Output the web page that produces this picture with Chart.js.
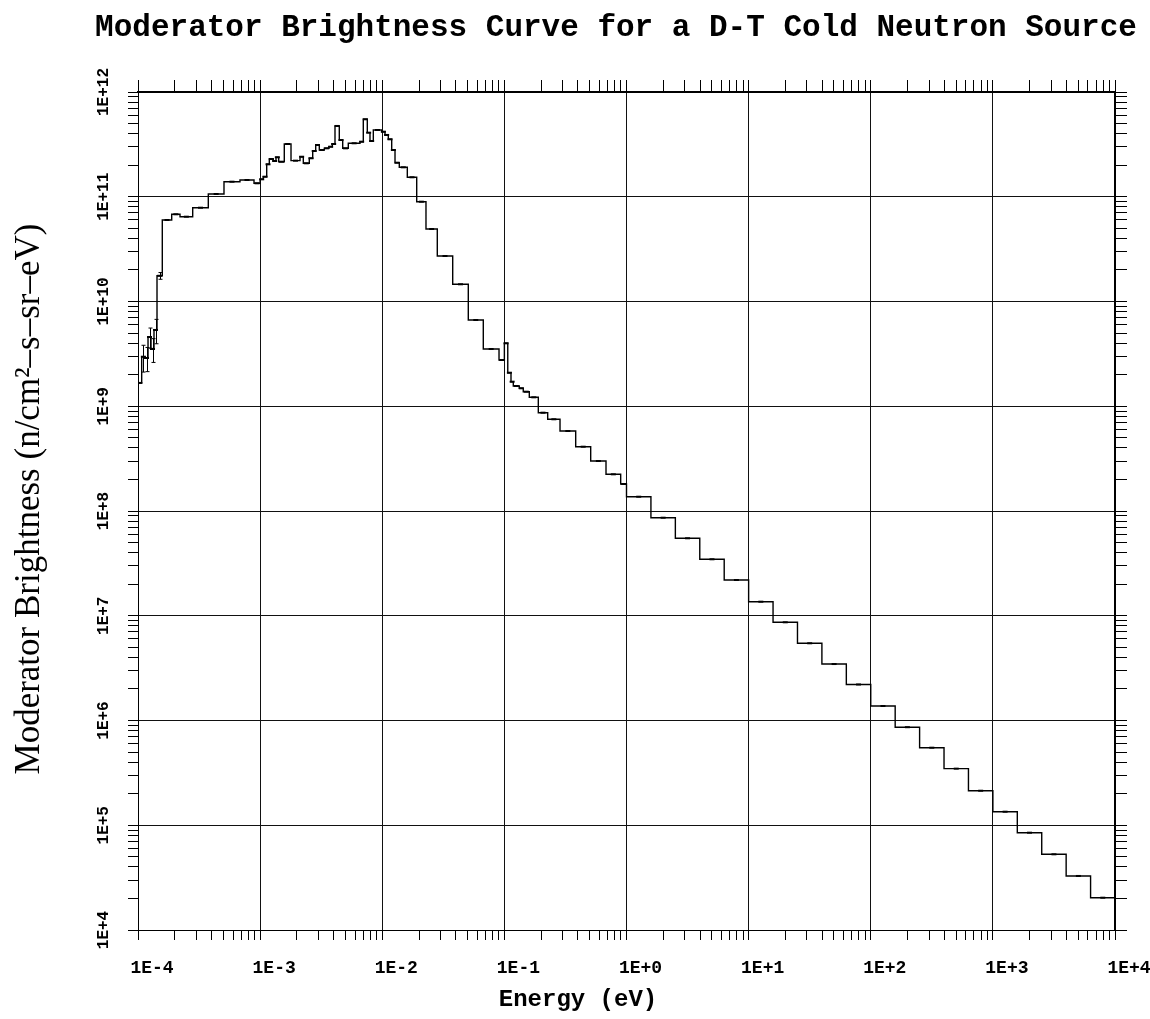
<!DOCTYPE html>
<html>
<head>
<meta charset="utf-8">
<title>Moderator Brightness Curve</title>
<script src="https://cdn.jsdelivr.net/npm/chart.js@4.4.1/dist/chart.umd.min.js"></script>
<style>
  html, body { margin: 0; padding: 0; background: #fff; }
  #wrap { width: 1150px; height: 1019px; }
</style>
</head>
<body>
<div id="wrap"><canvas id="brightChart" width="1150" height="1019"></canvas></div>
<script>
// Energy bin edges of the tally (eV)
const binEdges = [
    1.00e-4, 1.072e-4, 1.141e-4, 1.208e-4, 1.278e-4, 1.352e-4, 1.431e-4, 1.581e-4, 1.888e-4, 2.208e-4,
    2.805e-4, 3.764e-4, 5.06e-4, 6.84e-4, 8.91e-4, 1.0e-3, 1.062e-3, 1.132e-3, 1.189e-3, 1.282e-3,
    1.349e-3, 1.419e-3, 1.577e-3, 1.790e-3, 2.121e-3, 2.257e-3, 2.527e-3, 2.695e-3, 2.852e-3, 3.052e-3,
    3.354e-3, 3.664e-3, 3.899e-3, 4.103e-3, 4.449e-3, 4.745e-3, 5.272e-3, 6.574e-3, 6.995e-3, 7.544e-3,
    7.937e-3, 8.45e-3, 9.90e-3, 1.053e-2, 1.121e-2, 1.195e-2, 1.272e-2, 1.379e-2, 1.604e-2, 1.915e-2,
    2.281e-2, 2.823e-2, 3.775e-2, 5.065e-2, 6.72e-2, 9.04e-2, 1.0e-1, 1.066e-1, 1.133e-1, 1.183e-1,
    1.325e-1, 1.428e-1, 1.600e-1, 1.896e-1, 2.263e-1, 2.855e-1, 3.837e-1, 5.091e-1, 6.795e-1, 8.961e-1,
    1.0, 1.585, 2.512, 3.981, 6.310, 10, 15.85, 25.12, 39.81, 63.10,
    100, 158.5, 251.2, 398.1, 631.0, 1000, 1585, 2512, 3981, 6310, 10000
];

// Brightness in each bin (n/cm^2-s-sr-eV)
const brightness = [
    1.67e9, 2.97e9, 2.89e9, 4.58e9, 3.52e9, 5.35e9, 1.76e10, 6.0e10, 6.80e10, 6.45e10,
    7.86e10, 1.063e11, 1.392e11, 1.445e11, 1.344e11, 1.467e11, 1.554e11, 2.04e11, 2.293e11, 2.194e11,
    2.38e11, 2.16e11, 3.19e11, 2.21e11, 2.41e11, 2.086e11, 2.33e11, 2.735e11, 3.12e11, 2.795e11,
    2.90e11, 3.005e11, 3.19e11, 4.74e11, 3.48e11, 2.90e11, 3.24e11, 3.355e11, 5.49e11, 4.09e11,
    3.405e11, 4.34e11, 4.18e11, 3.89e11, 3.535e11, 2.795e11, 2.114e11, 1.91e11, 1.534e11, 8.97e10,
    4.92e10, 2.72e10, 1.46e10, 6.66e9, 3.52e9, 2.764e9, 3.99e9, 2.09e9, 1.716e9, 1.561e9,
    1.484e9, 1.377e9, 1.217e9, 8.68e8, 7.51e8, 5.80e8, 4.11e8, 3.00e8, 2.24e8, 1.81e8,
    1.369e8, 8.63e7, 5.49e7, 3.46e7, 2.194e7, 1.362e7, 8.66e6, 5.46e6, 3.46e6, 2.207e6,
    1.375e6, 8.63e5, 5.50e5, 3.47e5, 2.136e5, 1.347e5, 8.49e4, 5.28e4, 3.28e4, 2.034e4
];

// statistical errors, only visible in the coldest bins
const errorBins = [1, 2, 3, 4, 5, 6];
const errorSize = [0.85e9, 0.75e9, 1.0e9, 0.9e9, 1.4e9, 0.13e10];

const xTickLabels = ['1E-4', '1E-3', '1E-2', '1E-1', '1E+0', '1E+1', '1E+2', '1E+3', '1E+4'];
const yTickLabels = ['1E+4', '1E+5', '1E+6', '1E+7', '1E+8', '1E+9', '1E+10', '1E+11', '1E+12'];

const X_MIN = 1e-4, X_MAX = 1e4;
const Y_MIN = 1e4, Y_MAX = 1e12;

// histogram outline: one point per left edge, plus the closing edge
const stepPoints = binEdges.map((e, i) => ({ x: e, y: brightness[Math.min(i, brightness.length - 1)] }));
// little mark in the middle of every bin
const binMarks = brightness.map((v, i) => ({ x: Math.sqrt(binEdges[i] * binEdges[i + 1]), y: v }));

// 1..9 x 10^n ticks, decades flagged as major
function logTicks(scale) {
    const lo = Math.round(Math.log10(scale.min));
    const hi = Math.round(Math.log10(scale.max));
    const ticks = [];
    for (let e = lo; e <= hi; e++) {
        for (let m = 1; m <= 9; m++) {
            if (e === hi && m > 1) break;
            ticks.push({ value: m * Math.pow(10, e), major: m === 1 });
        }
    }
    scale.ticks = ticks;
}

function decadeLabel(labels, first) {
    return (value, index, ticks) => {
        if (!ticks[index].major) return '';
        return labels[Math.round(Math.log10(value)) - first];
    };
}

const gridColor = (ctx) => (ctx.tick && ctx.tick.major ? '#111' : 'rgba(0,0,0,0)');

const MONO = '"Liberation Mono", "DejaVu Sans Mono", monospace';
const SERIF = '"Liberation Serif", "Times New Roman", serif';
const monoBold = (size) => ({ family: MONO, weight: 'bold', size: size });

const errorBars = {
    id: 'errorBars',
    afterDatasetsDraw(chart) {
        const { ctx, scales: { x, y } } = chart;
        ctx.save();
        ctx.strokeStyle = '#000';
        ctx.lineWidth = 1;
        errorBins.forEach((i, k) => {
            const xc = Math.round(x.getPixelForValue(Math.sqrt(binEdges[i] * binEdges[i + 1]))) + 0.5;
            const top = y.getPixelForValue(brightness[i] + errorSize[k]);
            const bot = y.getPixelForValue(brightness[i] - errorSize[k]);
            ctx.beginPath();
            ctx.moveTo(xc, top);
            ctx.lineTo(xc, bot);
            ctx.moveTo(xc - 2, top);
            ctx.lineTo(xc + 2, top);
            ctx.moveTo(xc - 2, bot);
            ctx.lineTo(xc + 2, bot);
            ctx.stroke();
        });
        ctx.restore();
    }
};

// main title and both axis titles
const plotLabels = {
    id: 'plotLabels',
    afterDraw(chart) {
        const ctx = chart.ctx;
        ctx.save();
        ctx.fillStyle = '#000';
        ctx.textAlign = 'center';
        ctx.textBaseline = 'middle';

        ctx.font = 'bold 31px ' + MONO;
        ctx.fillText('Moderator Brightness Curve for a D-T Cold Neutron Source', 616, 28);

        ctx.font = 'bold 24px ' + MONO;
        ctx.fillText('Energy (eV)', 578, 1000);

        ctx.translate(30, 499);
        ctx.rotate(-Math.PI / 2);
        ctx.font = '35px ' + SERIF;
        ctx.fillText('Moderator Brightness (n/cm\u00b2\u2013s\u2013sr\u2013eV)', 0, 0);
        ctx.restore();
    }
};

const ctx = document.getElementById('brightChart').getContext('2d');

new Chart(ctx, {
    type: 'line',
    data: {
        datasets: [
            {
                label: 'brightness',
                data: stepPoints,
                stepped: true,
                borderColor: '#000',
                borderWidth: 1.4,
                pointRadius: 0,
                fill: false,
            },
            {
                label: 'bin centre',
                data: binMarks,
                showLine: false,
                pointStyle: 'line',
                pointRadius: 2.5,
                borderColor: '#000',
                borderWidth: 2,
            },
        ],
    },
    options: {
        responsive: false,
        animation: false,
        layout: { padding: 0 },
        plugins: {
            legend: { display: false },
            tooltip: { enabled: false },
        },
        scales: {
            x: {
                type: 'logarithmic',
                position: 'bottom',
                min: X_MIN,
                max: X_MAX,
                afterBuildTicks: logTicks,
                afterFit: (s) => { s.height = 89; s.paddingLeft = 0; s.paddingRight = 0; },
                border: { color: '#000', width: 1 },
                grid: { color: gridColor, tickColor: '#000', lineWidth: 1, tickLength: 10 },
                ticks: {
                    autoSkip: false,
                    minRotation: 0,
                    maxRotation: 0,
                    padding: 18,
                    labelOffset: 14,
                    color: '#000',
                    font: monoBold(18),
                    callback: decadeLabel(xTickLabels, -4),
                },
            },
            xTop: {
                type: 'logarithmic',
                position: 'top',
                min: X_MIN,
                max: X_MAX,
                afterBuildTicks: logTicks,
                afterFit: (s) => { s.height = 92; s.paddingLeft = 0; s.paddingRight = 0; },
                border: { color: '#000', width: 2 },
                grid: { drawOnChartArea: false, color: '#000', tickLength: 12 },
                ticks: { display: false },
            },
            y: {
                type: 'logarithmic',
                position: 'left',
                min: Y_MIN,
                max: Y_MAX,
                afterBuildTicks: logTicks,
                afterFit: (s) => { s.width = 138; s.paddingTop = 0; s.paddingBottom = 0; },
                border: { color: '#000', width: 1 },
                grid: { color: gridColor, tickColor: '#000', lineWidth: 1, tickLength: 10 },
                ticks: {
                    autoSkip: false,
                    minRotation: 90,
                    maxRotation: 90,
                    crossAlign: 'center',
                    padding: 0,
                    color: '#000',
                    font: monoBold(16),
                    callback: decadeLabel(yTickLabels, 4),
                },
            },
            yRight: {
                type: 'logarithmic',
                position: 'right',
                min: Y_MIN,
                max: Y_MAX,
                afterBuildTicks: logTicks,
                afterFit: (s) => { s.width = 35; s.paddingTop = 0; s.paddingBottom = 0; },
                border: { color: '#000', width: 2 },
                grid: { drawOnChartArea: false, color: '#000', tickLength: 12 },
                ticks: { display: false },
            },
        },
    },
    plugins: [errorBars, plotLabels],
});
</script>
</body>
</html>
